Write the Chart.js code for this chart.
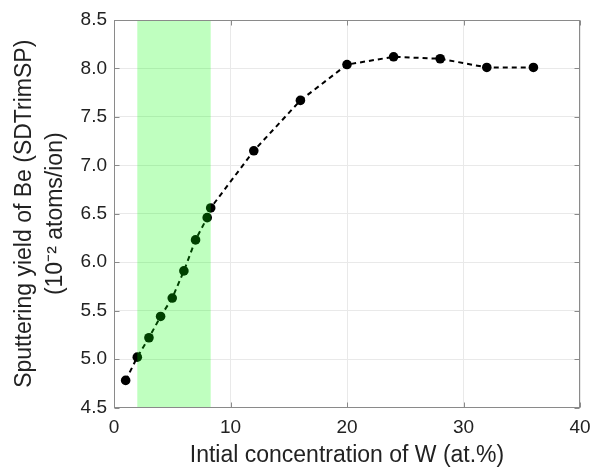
<!DOCTYPE html>
<html>
<head>
<meta charset="utf-8">
<script src="https://cdn.jsdelivr.net/npm/chart.js@4.4.1/dist/chart.umd.min.js"></script>
<style>
  html, body { margin: 0; padding: 0; background: #ffffff; }
  #wrap { width: 593px; height: 469px; }
</style>
</head>
<body>
<div id="wrap"><canvas id="c" width="593" height="469"></canvas></div>
<script>
// ---- data ----
const concentrationW = [1, 2, 3, 4, 5, 6, 7, 8, 8.3, 12, 16, 20, 24, 28, 32, 36];
const sputterYield = [4.78, 5.02, 5.22, 5.44, 5.63, 5.91, 6.23, 6.46, 6.56, 7.15, 7.67, 8.04, 8.12, 8.10, 8.01, 8.01];
const shadedRange = [2, 8.3];
const xTicks = [0, 10, 20, 30, 40];
const yTicks = [4.5, 5.0, 5.5, 6.0, 6.5, 7.0, 7.5, 8.0, 8.5];
const xTitle = 'Intial concentration of W (at.%)';
const yTitle = ['Sputtering yield of Be (SDTrimSP)', '(10\u207B\u00B2 atoms/ion)'];

const FONT = '"Liberation Sans", Arial, sans-serif';
const AXIS_COLOR = '#8a8a8a';
const TEXT_COLOR = '#222222';

const points = concentrationW.map((x, i) => ({ x: x, y: sputterYield[i] }));

const shadePlugin = {
  id: 'shade',
  afterDatasetsDraw(chart) {
    const { ctx, chartArea, scales } = chart;
    const x0 = scales.x.getPixelForValue(shadedRange[0]);
    const x1 = scales.x.getPixelForValue(shadedRange[1]);
    ctx.save();
    ctx.fillStyle = 'rgba(0,255,0,0.25)';
    ctx.fillRect(x0, chartArea.top, x1 - x0, chartArea.bottom - chartArea.top);
    ctx.restore();
  }
};

const boxPlugin = {
  id: 'box',
  afterDraw(chart) {
    const { ctx, chartArea, scales } = chart;
    const L = Math.round(chartArea.left) + 0.5, R = Math.round(chartArea.right) - 0.5;
    const T = Math.round(chartArea.top) + 0.5, B = Math.round(chartArea.bottom) - 0.5;
    ctx.save();
    ctx.strokeStyle = AXIS_COLOR;
    ctx.lineWidth = 1;
    ctx.strokeRect(L, T, R - L, B - T);
    const len = 5;
    ctx.beginPath();
    xTicks.forEach(v => {
      const px = Math.round(scales.x.getPixelForValue(v)) + 0.5;
      ctx.moveTo(px, B); ctx.lineTo(px, B - len);
      ctx.moveTo(px, T); ctx.lineTo(px, T + len);
    });
    yTicks.forEach(v => {
      const py = Math.round(scales.y.getPixelForValue(v)) + 0.5;
      ctx.moveTo(L, py); ctx.lineTo(L + len, py);
      ctx.moveTo(R, py); ctx.lineTo(R - len, py);
    });
    ctx.stroke();
    ctx.restore();
  }
};

new Chart(document.getElementById('c'), {
  type: 'scatter',
  data: {
    datasets: [{
      data: points,
      showLine: true,
      borderColor: '#000000',
      borderWidth: 2,
      borderDash: [5, 4],
      pointRadius: 4.8,
      pointHoverRadius: 4.8,
      pointBackgroundColor: '#000000',
      pointBorderColor: '#000000',
      pointBorderWidth: 0,
      tension: 0
    }]
  },
  options: {
    responsive: false,
    animation: false,
    events: [],
    layout: { padding: { top: 20, right: 13, left: 0, bottom: 0 } },
    plugins: {
      legend: { display: false },
      tooltip: { enabled: false }
    },
    scales: {
      x: {
        type: 'linear',
        min: 0, max: 40,
        afterFit(scale) { scale.height = 61.5; scale.paddingRight = 0; scale.paddingLeft = 0; },
        afterBuildTicks(scale) { scale.ticks = xTicks.map(v => ({ value: v })); },
        grid: { color: '#e9e9e9', drawTicks: false },
        border: { display: false },
        ticks: {
          padding: 9,
          color: TEXT_COLOR,
          font: { family: FONT, size: 19 },
          maxRotation: 0
        },
        title: {
          display: true,
          text: xTitle,
          color: TEXT_COLOR,
          font: { family: FONT, size: 23, lineHeight: 1.2 },
          padding: { top: 0, bottom: 0 }
        }
      },
      y: {
        type: 'linear',
        min: 4.5, max: 8.5,
        afterFit(scale) { scale.width = 114; scale.paddingTop = 0; scale.paddingBottom = 0; },
        afterBuildTicks(scale) { scale.ticks = yTicks.map(v => ({ value: v })); },
        grid: { color: '#e9e9e9', drawTicks: false },
        border: { display: false },
        ticks: {
          padding: 7,
          color: TEXT_COLOR,
          font: { family: FONT, size: 19 },
          callback: v => Number(v).toFixed(1)
        },
        title: {
          display: true,
          text: yTitle,
          color: TEXT_COLOR,
          font: { family: FONT, size: 23, lineHeight: 1.35 },
          padding: { top: 9, bottom: 0 }
        }
      }
    }
  },
  plugins: [shadePlugin, boxPlugin]
});
</script>
</body>
</html>
